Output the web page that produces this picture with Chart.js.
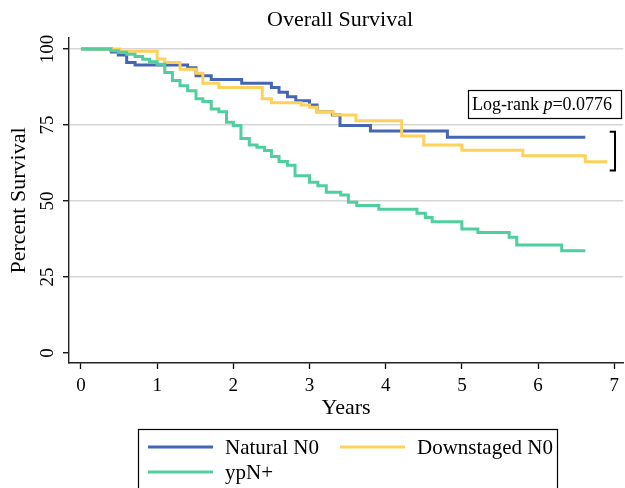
<!DOCTYPE html>
<html><head><meta charset="utf-8">
<script src="https://cdn.jsdelivr.net/npm/chart.js@4"></script>
<style>html,body{margin:0;padding:0;background:#fff;} #wrap{width:625px;height:488px;}</style>
</head><body><div id="wrap"><canvas id="c" width="625" height="488"></canvas></div>
<script>
const seriesNames = ['Natural N0', 'Downstaged N0', 'ypN+'];
const naturalTimes = [0, 0.40, 0.49, 0.60, 0.71, 1.40, 1.51, 1.71, 2.11, 2.50, 2.60, 2.71, 2.82, 3.00, 3.10, 3.30, 3.40, 3.80, 4.81, 6.62];
const naturalSurv  = [100, 99.0, 98.0, 95.6, 94.7, 93.8, 91.2, 90.0, 88.7, 87.3, 85.8, 84.3, 83.0, 81.6, 79.4, 78.3, 74.8, 73.0, 71.0, 71.0];
const downTimes = [0, 0.51, 1.00, 1.10, 1.30, 1.51, 1.60, 1.81, 2.38, 2.50, 2.89, 3.00, 3.10, 3.31, 3.61, 4.21, 4.50, 5.00, 5.80, 6.62, 6.91];
const downSurv  = [100, 99.3, 96.7, 95.6, 93.3, 92.0, 88.7, 87.3, 83.6, 82.3, 81.6, 80.8, 79.4, 78.3, 76.4, 71.4, 68.4, 66.7, 64.9, 62.9, 62.9];
const ypnTimes = [0, 0.39, 0.49, 0.60, 0.71, 0.81, 0.90, 1.00, 1.10, 1.20, 1.30, 1.40, 1.51, 1.60, 1.71, 1.81, 1.91, 2.00, 2.10, 2.21, 2.31, 2.41, 2.50, 2.60, 2.71, 2.81, 3.00, 3.11, 3.22, 3.41, 3.51, 3.62, 3.91, 4.41, 4.52, 4.61, 5.00, 5.21, 5.62, 5.72, 6.31, 6.62];
const ypnSurv  = [100, 99.4, 98.9, 98.3, 97.5, 96.6, 95.8, 95.0, 92.3, 89.6, 87.9, 86.3, 83.6, 82.7, 80.3, 79.4, 75.9, 74.8, 70.6, 68.4, 67.7, 66.6, 64.6, 63.0, 61.8, 58.3, 56.2, 55.0, 52.9, 52.0, 49.6, 48.5, 47.3, 46.0, 44.6, 43.2, 40.8, 39.6, 38.1, 35.5, 33.6, 33.6];
const xTicks = [0, 1, 2, 3, 4, 5, 6, 7];
const yTicks = [0, 25, 50, 75, 100];
const chartTitle = 'Overall Survival';
const xTitle = 'Years';
const yTitle = 'Percent Survival';
const pValueText = ['Log-rank ', 'p', '=0.0776'];

const colors = ['#4565b5', '#fed15b', '#4fcf9e'];
const SERIF = "'Liberation Serif', 'Times New Roman', serif";

function pts(ts, vs) { return ts.map((t, i) => ({x: t, y: vs[i]})); }

const decor = {
  id: 'decor',
  afterDraw(chart) {
    const ctx = chart.ctx;
    const ys = chart.scales.y, xs = chart.scales.x;
    ctx.save();
    ctx.fillStyle = '#000';
    // title
    ctx.font = '22px ' + SERIF;
    ctx.textAlign = 'center'; ctx.textBaseline = 'middle';
    ctx.fillText(chartTitle, 340, 20);
    // rotated y tick labels
    ctx.font = '19px ' + SERIF;
    yTicks.forEach(v => {
      const y = ys.getPixelForValue(v);
      ctx.save();
      ctx.translate(48, y);
      ctx.rotate(-Math.PI / 2);
      ctx.textAlign = 'center'; ctx.textBaseline = 'middle';
      ctx.fillText(String(v), 0, 0);
      ctx.restore();
    });
    // log-rank box
    ctx.lineWidth = 1.2; ctx.strokeStyle = '#000';
    ctx.strokeRect(468.5, 90.5, 153, 28);
    ctx.textAlign = 'left'; ctx.textBaseline = 'alphabetic';
    let tx = 472;
    ctx.font = '18px ' + SERIF; ctx.fillText(pValueText[0], tx, 110); tx += ctx.measureText(pValueText[0]).width;
    ctx.font = 'italic 18px ' + SERIF; ctx.fillText(pValueText[1], tx, 110); tx += ctx.measureText(pValueText[1]).width;
    ctx.font = '18px ' + SERIF; ctx.fillText(pValueText[2], tx, 110);
    // bracket
    const bx = xs.getPixelForValue(7.01), bxl = xs.getPixelForValue(6.94);
    const by1 = ys.getPixelForValue(72.8), by2 = ys.getPixelForValue(60.0);
    ctx.lineWidth = 2;
    ctx.beginPath();
    ctx.moveTo(bxl, by1); ctx.lineTo(bx, by1); ctx.lineTo(bx, by2); ctx.lineTo(bxl, by2);
    ctx.stroke();
    // legend
    ctx.lineWidth = 1.2;
    ctx.strokeRect(138.5, 429.5, 419, 70);
    const items = [[148, 447], [340, 447], [148, 472]];
    ctx.font = '21px ' + SERIF;
    ctx.textBaseline = 'middle';
    items.forEach((p, i) => {
      ctx.strokeStyle = colors[i]; ctx.lineWidth = 3;
      ctx.beginPath(); ctx.moveTo(p[0], p[1]); ctx.lineTo(p[0] + 65, p[1]); ctx.stroke();
      ctx.fillStyle = '#000';
      ctx.fillText(seriesNames[i], p[0] + 77, p[1] + 1);
    });
    ctx.restore();
  }
};

const mk = (i, ts, vs, order) => ({
  label: seriesNames[i], data: pts(ts, vs), borderColor: colors[i], backgroundColor: colors[i],
  borderWidth: 3, pointRadius: 0, stepped: 'before', fill: false, order: order
});

new Chart(document.getElementById('c'), {
  type: 'line',
  data: { datasets: [mk(0, naturalTimes, naturalSurv, 3), mk(1, downTimes, downSurv, 2), mk(2, ypnTimes, ypnSurv, 1)] },
  options: {
    responsive: false, animation: false, devicePixelRatio: 1,
    layout: { padding: { top: 38, left: 0, right: 0, bottom: 66.8 } },
    plugins: { legend: { display: false }, title: { display: false }, tooltip: { enabled: false } },
    scales: {
      x: {
        type: 'linear', min: -0.157, max: 7.118,
        afterBuildTicks: s => { s.ticks = xTicks.map(v => ({value: v})); },
        afterFit: s => { s.height = 58.2; },
        ticks: { font: { family: SERIF, size: 19 }, color: '#000', padding: 6, maxRotation: 0, autoSkip: false },
        grid: { drawOnChartArea: false, drawTicks: true, tickLength: 6, tickColor: '#000', tickWidth: 1.3 },
        border: { color: '#222', width: 1.4 },
        title: { display: true, text: xTitle, font: { family: SERIF, size: 22 }, color: '#000', padding: { top: 0, bottom: 0 } }
      },
      y: {
        type: 'linear', min: -3.29, max: 103.62,
        afterBuildTicks: s => { s.ticks = yTicks.map(v => ({value: v})); },
        afterFit: s => { s.width = 69; },
        ticks: { display: false },
        grid: { color: c => (c.tick && c.tick.value === 0) ? 'rgba(0,0,0,0)' : '#d6d6d6', lineWidth: 1.5, drawTicks: true, tickLength: 6, tickColor: '#000', tickWidth: 1.3 },
        border: { color: '#222', width: 1.4 },
        title: { display: true, text: yTitle, font: { family: SERIF, size: 22 }, color: '#000', padding: { top: 6.3, bottom: 0 } }
      }
    }
  },
  plugins: [decor]
});
</script></body></html>
